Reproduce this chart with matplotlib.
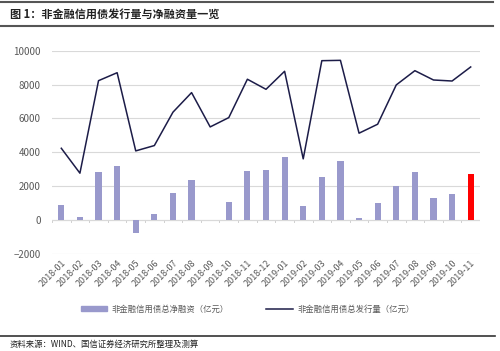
import matplotlib.pyplot as plt
import matplotlib.lines as mlines
import matplotlib.patches as mpatches

plt.rcParams['font.family'] = ['Noto Sans CJK SC', 'DejaVu Sans']

months = ['2018-01', '2018-02', '2018-03', '2018-04', '2018-05', '2018-06',
          '2018-07', '2018-08', '2018-09', '2018-10', '2018-11', '2018-12',
          '2019-01', '2019-02', '2019-03', '2019-04', '2019-05', '2019-06',
          '2019-07', '2019-08', '2019-09', '2019-10', '2019-11']
# 非金融信用债总净融资（亿元）
net_financing = [900, 155, 2830, 3220, -770, 350, 1590, 2360, 0, 1060, 2925, 2950,
                 3750, 825, 2535, 3500, 115, 1000, 2040, 2810, 1315, 1530, 2710]
# 非金融信用债总发行量（亿元）
issuance = [4240, 2770, 8230, 8700, 4085, 4400, 6370, 7525, 5500, 6050, 8315, 7720,
            8785, 3615, 9410, 9430, 5130, 5660, 7980, 8820, 8270, 8210, 9040]

bar_color = '#9999cc'
line_color = '#1c1c48'
grey = '#595959'

fig = plt.figure(figsize=(5, 3.51), dpi=100)
ax = fig.add_axes([0.104, 0.2764, 0.856, 0.5792])

x = list(range(len(months)))
colors = [bar_color] * (len(months) - 1) + ['#ff0000']
ax.bar(x, net_financing, width=0.33, color=colors, zorder=2)
ax.plot(x, issuance, color=line_color, linewidth=1.1, zorder=3)

ax.set_xlim(-0.5, len(months) - 0.5)
ax.set_ylim(-2000, 10000)
ax.set_yticks(range(-2000, 10001, 2000))
ax.yaxis.grid(True, color='#d9d9d9', linewidth=0.8, zorder=0)
ax.tick_params(axis='y', length=0, labelsize=7, labelcolor=grey, pad=8)
for s in ax.spines.values():
    s.set_visible(False)

# zero line with category tick marks
ax.axhline(0, color='#d0d0d0', linewidth=0.8, zorder=1)
for b in range(len(months) + 1):
    ax.plot([b - 0.5, b - 0.5], [0, -110], color='#d0d0d0', linewidth=0.7, zorder=1)

ax.set_xticks(x)
ax.set_xticklabels(months, rotation=45, ha='right', rotation_mode='anchor')
ax.tick_params(axis='x', length=0, labelsize=6.5, labelcolor=grey, pad=3)

# title and rules
fig.add_artist(mlines.Line2D([0.0, 0.985], [0.993, 0.993], color='#555555', linewidth=1.5))
fig.add_artist(mlines.Line2D([0.0, 0.985], [0.925, 0.925], color='#555555', linewidth=1.5))
fig.text(0.02, 0.958, '图 1：非金融信用债发行量与净融资量一览', fontsize=8,
         fontweight='bold', color='#222222', va='center')

# legend
fig.add_artist(mpatches.Rectangle((0.162, 0.114), 0.052, 0.013, color=bar_color))
fig.text(0.222, 0.120, '非金融信用债总净融资（亿元）', fontsize=6, color=grey, va='center')
fig.add_artist(mlines.Line2D([0.532, 0.586], [0.120, 0.120], color=line_color, linewidth=1.1))
fig.text(0.594, 0.120, '非金融信用债总发行量（亿元）', fontsize=6, color=grey, va='center')

# source
fig.add_artist(mlines.Line2D([0.0, 0.99], [0.043, 0.043], color='#333333', linewidth=1.2))
fig.text(0.02, 0.018, '资料来源：WIND、国信证券经济研究所整理及测算', fontsize=6,
         color='#222222', va='center')

fig.savefig('out.png', dpi=100)
